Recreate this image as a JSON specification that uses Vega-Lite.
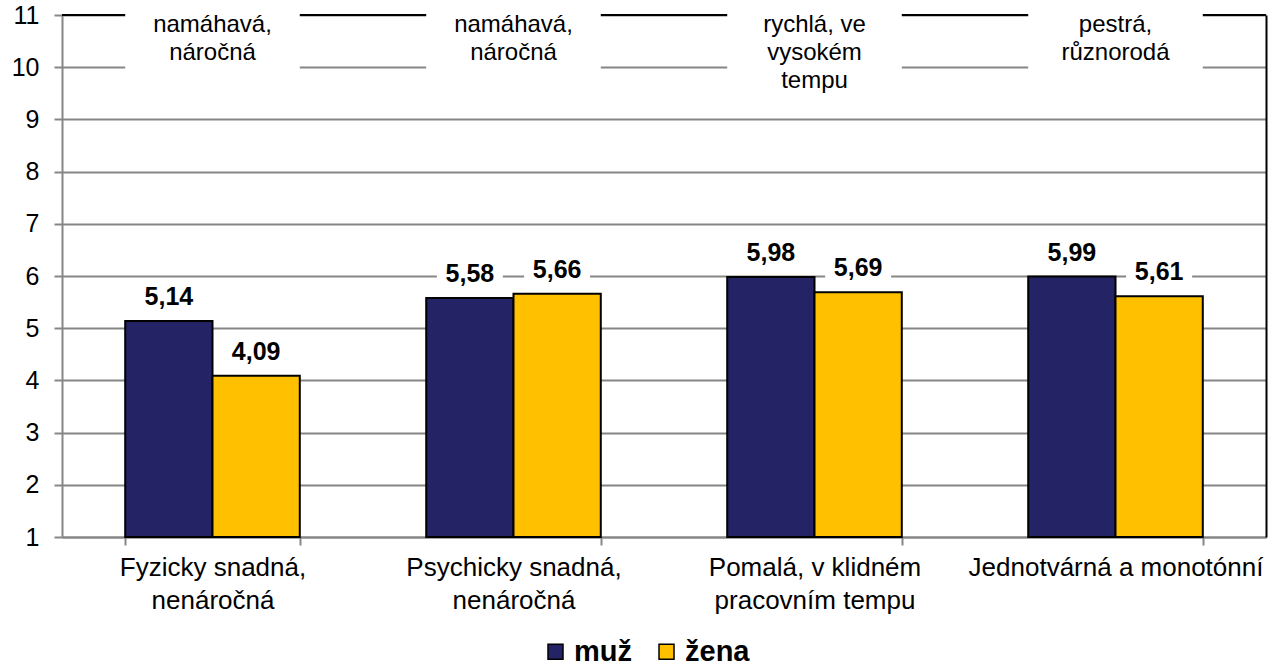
{
  "$schema": "https://vega.github.io/schema/vega-lite/v6.json",
  "width": 1204,
  "height": 522,
  "autosize": {"type": "none"},
  "padding": {"left": 62, "top": 15, "right": 10, "bottom": 129},
  "background": "white",
  "config": {
    "view": {"stroke": null},
    "font": "Liberation Sans",
    "locale": {"number": {"decimal": ",", "thousands": " ", "grouping": [3], "currency": ["", " Kč"]}},
    "axis": {"labelFont": "Liberation Sans", "labelColor": "black", "domainColor": "#868686", "domainWidth": 2, "tickColor": "#868686", "tickWidth": 2, "gridColor": "#868686", "gridWidth": 2}
  },
  "datasets": {
    "bars": [
      {"kategorie": "Fyzicky snadná, nenáročná", "pohlavi": "muž", "hodnota": 5.14},
      {"kategorie": "Fyzicky snadná, nenáročná", "pohlavi": "žena", "hodnota": 4.09},
      {"kategorie": "Psychicky snadná, nenáročná", "pohlavi": "muž", "hodnota": 5.58},
      {"kategorie": "Psychicky snadná, nenáročná", "pohlavi": "žena", "hodnota": 5.66},
      {"kategorie": "Pomalá, v klidném pracovním tempu", "pohlavi": "muž", "hodnota": 5.98},
      {"kategorie": "Pomalá, v klidném pracovním tempu", "pohlavi": "žena", "hodnota": 5.69},
      {"kategorie": "Jednotvárná a monotónní", "pohlavi": "muž", "hodnota": 5.99},
      {"kategorie": "Jednotvárná a monotónní", "pohlavi": "žena", "hodnota": 5.61}
    ],
    "notes": [
      {"kategorie": "Fyzicky snadná, nenáročná", "popis": ["namáhavá,", "náročná"]},
      {"kategorie": "Psychicky snadná, nenáročná", "popis": ["namáhavá,", "náročná"]},
      {"kategorie": "Pomalá, v klidném pracovním tempu", "popis": ["rychlá, ve", "vysokém", "tempu"]},
      {"kategorie": "Jednotvárná a monotónní", "popis": ["pestrá,", "různorodá"]}
    ]
  },
  "resolve": {"axis": {"y": "independent"}},
  "layer": [
    {
      "data": {"name": "notes"},
      "mark": {"type": "rule", "color": "black", "strokeWidth": 2},
      "encoding": {
        "y": {"datum": 11, "type": "quantitative", "axis": null}
      }
    },
    {
      "data": {"name": "notes"},
      "mark": {"type": "bar", "fill": "white", "clip": false},
      "encoding": {
        "x": {"field": "kategorie", "type": "nominal", "sort": null, "title": null},
        "y": {"datum": 9.45, "type": "quantitative", "axis": null},
        "y2": {"datum": 11.15}
      }
    },
    {
      "data": {"name": "bars"},
      "mark": {"type": "bar", "stroke": "black", "strokeWidth": 2},
      "encoding": {
        "x": {
          "field": "kategorie", "type": "nominal", "sort": null, "title": null,
          "scale": {"paddingInner": 0.42, "paddingOuter": 0.21},
          "axis": {
            "tickBand": "extent", "tickSize": 8, "labelAngle": 0, "labelAlign": "center", "labelFontSize": 26, "labelLineHeight": 33,
            "labelPadding": 9, "labelLimit": 0, "labelOverlap": false, "labelBaseline": "top", "labelBound": false,
            "labelExpr": "datum.value == 'Fyzicky snadná, nenáročná' ? ['Fyzicky snadná,', 'nenáročná'] : datum.value == 'Psychicky snadná, nenáročná' ? ['Psychicky snadná,', 'nenáročná'] : datum.value == 'Pomalá, v klidném pracovním tempu' ? ['Pomalá, v klidném', 'pracovním tempu'] : datum.label"
          }
        },
        "xOffset": {"field": "pohlavi", "type": "nominal", "sort": ["muž", "žena"], "scale": {"paddingInner": 0, "paddingOuter": 0}},
        "y": {
          "field": "hodnota", "type": "quantitative", "title": null,
          "scale": {"domain": [1, 11], "nice": false, "zero": false},
          "axis": {"orient": "left", "values": [1, 2, 3, 4, 5, 6, 7, 8, 9, 10, 11], "tickSize": 8, "labelFontSize": 25, "labelPadding": 15, "grid": true}
        },
        "y2": {"datum": 1},
        "color": {
          "field": "pohlavi", "type": "nominal", "sort": ["muž", "žena"],
          "scale": {"domain": ["muž", "žena"], "range": ["#232365", "#FFC000"]},
          "legend": {
            "title": null, "orient": "none", "direction": "horizontal", "legendX": 479, "legendY": 622,
            "symbolType": "square", "symbolSize": 225, "symbolStrokeColor": "black", "symbolStrokeWidth": 1.5,
            "labelFontSize": 29, "labelFontWeight": "bold", "labelColor": "black", "labelOffset": 4, "columnPadding": 20, "padding": 0
          }
        }
      }
    },
    {
      "data": {"name": "bars"},
      "mark": {"type": "tick", "color": "white", "opacity": 1, "thickness": 28, "size": 66, "yOffset": -24},
      "encoding": {
        "x": {"field": "kategorie", "type": "nominal", "sort": null},
        "xOffset": {"field": "pohlavi", "type": "nominal", "sort": ["muž", "žena"]},
        "y": {"field": "hodnota", "type": "quantitative", "axis": {"orient": "right", "labels": false, "ticks": false, "grid": false, "domainColor": "black", "domainWidth": 2, "title": null}}
      }
    },
    {
      "data": {"name": "bars"},
      "mark": {"type": "text", "baseline": "middle", "dy": -24, "fontSize": 25, "fontWeight": "bold", "color": "black"},
      "encoding": {
        "x": {"field": "kategorie", "type": "nominal", "sort": null},
        "xOffset": {"field": "pohlavi", "type": "nominal", "sort": ["muž", "žena"]},
        "y": {"field": "hodnota", "type": "quantitative", "axis": null},
        "text": {"field": "hodnota", "type": "quantitative", "format": ".2f"}
      }
    },
    {
      "data": {"name": "notes"},
      "mark": {"type": "text", "baseline": "top", "dy": -2, "fontSize": 24, "lineHeight": 28, "color": "black"},
      "encoding": {
        "x": {"field": "kategorie", "type": "nominal", "sort": null},
        "y": {"datum": 11, "type": "quantitative", "axis": null},
        "text": {"field": "popis", "type": "nominal"}
      }
    }
  ]
}
